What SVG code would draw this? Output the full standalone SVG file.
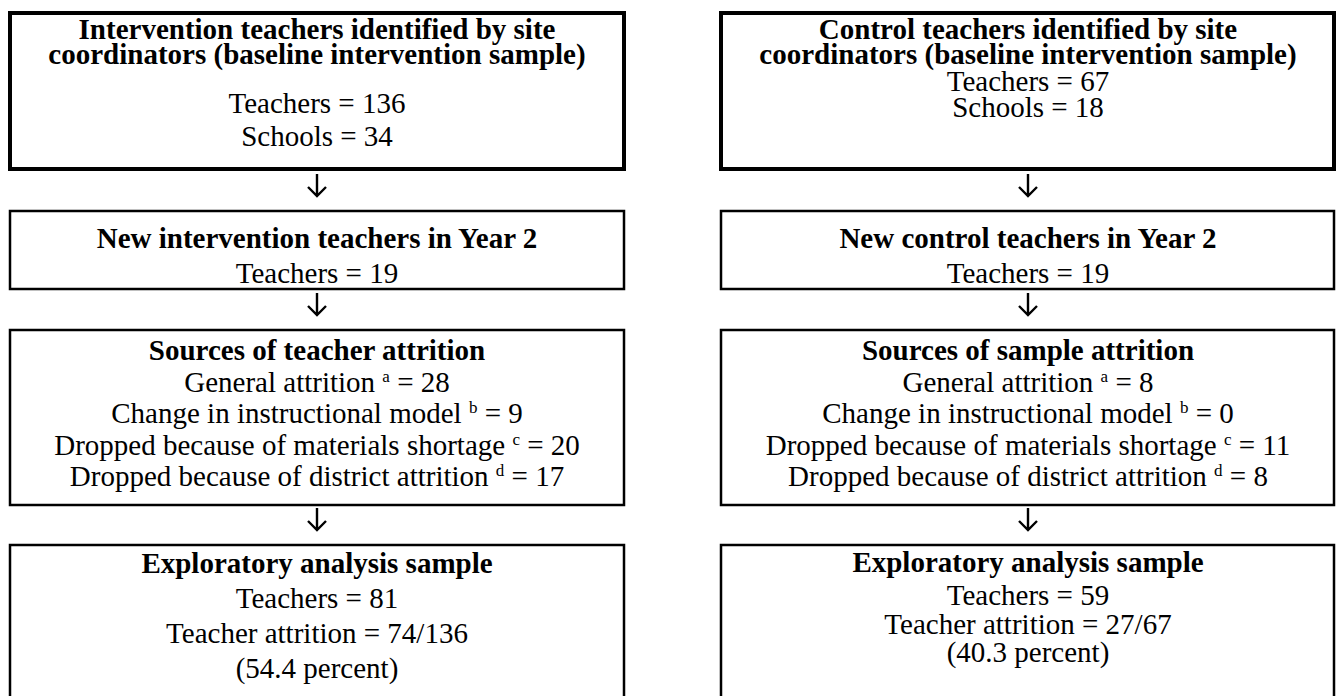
<svg xmlns="http://www.w3.org/2000/svg" width="1338" height="696" viewBox="0 0 1338 696">
<style>
.box{fill:#fff;stroke:#000;stroke-width:2.5}
.thick{stroke-width:4}
text{font-family:"Liberation Serif","Times New Roman",serif;font-size:29px;fill:#000;text-anchor:middle}
.b{font-weight:bold}
.sup{font-size:17px}
.arr{fill:none;stroke:#000;stroke-width:2.4}
</style>
<rect width="1338" height="696" fill="#fff"/>
<g id="int-baseline">
<rect class="box thick" x="10" y="13" width="614" height="156"/>
<text class="b" x="317" y="39">Intervention teachers identified by site</text>
<text class="b" x="317" y="64">coordinators (baseline intervention sample)</text>
<text x="317" y="113">Teachers = 136</text>
<text x="317" y="146">Schools = 34</text>
</g>
<g id="ctl-baseline">
<rect class="box thick" x="721" y="13" width="613" height="156"/>
<text class="b" x="1028" y="39">Control teachers identified by site</text>
<text class="b" x="1028" y="64">coordinators (baseline intervention sample)</text>
<text x="1028" y="91">Teachers = 67</text>
<text x="1028" y="117">Schools = 18</text>
</g>
<g id="int-new">
<rect class="box" x="10" y="211" width="614" height="78"/>
<text class="b" x="317" y="248">New intervention teachers in Year 2</text>
<text x="317" y="283">Teachers = 19</text>
</g>
<g id="ctl-new">
<rect class="box" x="721" y="211" width="613" height="78"/>
<text class="b" x="1028" y="248">New control teachers in Year 2</text>
<text x="1028" y="283">Teachers = 19</text>
</g>
<g id="int-attrition">
<rect class="box" x="10" y="330" width="614" height="175"/>
<text class="b" x="317" y="360">Sources of teacher attrition</text>
<text x="317" y="392">General attrition <tspan class="sup" dy="-10">a</tspan><tspan dy="10"> = 28</tspan></text>
<text x="317" y="423">Change in instructional model <tspan class="sup" dy="-10">b</tspan><tspan dy="10"> = 9</tspan></text>
<text x="317" y="455">Dropped because of materials shortage <tspan class="sup" dy="-10">c</tspan><tspan dy="10"> = 20</tspan></text>
<text x="317" y="486">Dropped because of district attrition <tspan class="sup" dy="-10">d</tspan><tspan dy="10"> = 17</tspan></text>
</g>
<g id="ctl-attrition">
<rect class="box" x="721" y="330" width="613" height="175"/>
<text class="b" x="1028" y="360">Sources of sample attrition</text>
<text x="1028" y="392">General attrition <tspan class="sup" dy="-10">a</tspan><tspan dy="10"> = 8</tspan></text>
<text x="1028" y="423">Change in instructional model <tspan class="sup" dy="-10">b</tspan><tspan dy="10"> = 0</tspan></text>
<text x="1028" y="455">Dropped because of materials shortage <tspan class="sup" dy="-10">c</tspan><tspan dy="10"> = 11</tspan></text>
<text x="1028" y="486">Dropped because of district attrition <tspan class="sup" dy="-10">d</tspan><tspan dy="10"> = 8</tspan></text>
</g>
<g id="int-final">
<rect class="box" x="10" y="545" width="614" height="160"/>
<text class="b" x="317" y="573">Exploratory analysis sample</text>
<text x="317" y="608">Teachers = 81</text>
<text x="317" y="643">Teacher attrition = 74/136</text>
<text x="317" y="678">(54.4 percent)</text>
</g>
<g id="ctl-final">
<rect class="box" x="721" y="545" width="613" height="160"/>
<text class="b" x="1028" y="572">Exploratory analysis sample</text>
<text x="1028" y="605">Teachers = 59</text>
<text x="1028" y="634">Teacher attrition = 27/67</text>
<text x="1028" y="662">(40.3 percent)</text>
</g>
<g id="connectors">
<path class="arr" d="M317 174V196M308 187L317 196L326 187"/>
<path class="arr" d="M1028 174V196M1019 187L1028 196L1037 187"/>
<path class="arr" d="M317 293V315M308 306L317 315L326 306"/>
<path class="arr" d="M1028 293V315M1019 306L1028 315L1037 306"/>
<path class="arr" d="M317 508V530M308 521L317 530L326 521"/>
<path class="arr" d="M1028 508V530M1019 521L1028 530L1037 521"/>
</g>
</svg>
